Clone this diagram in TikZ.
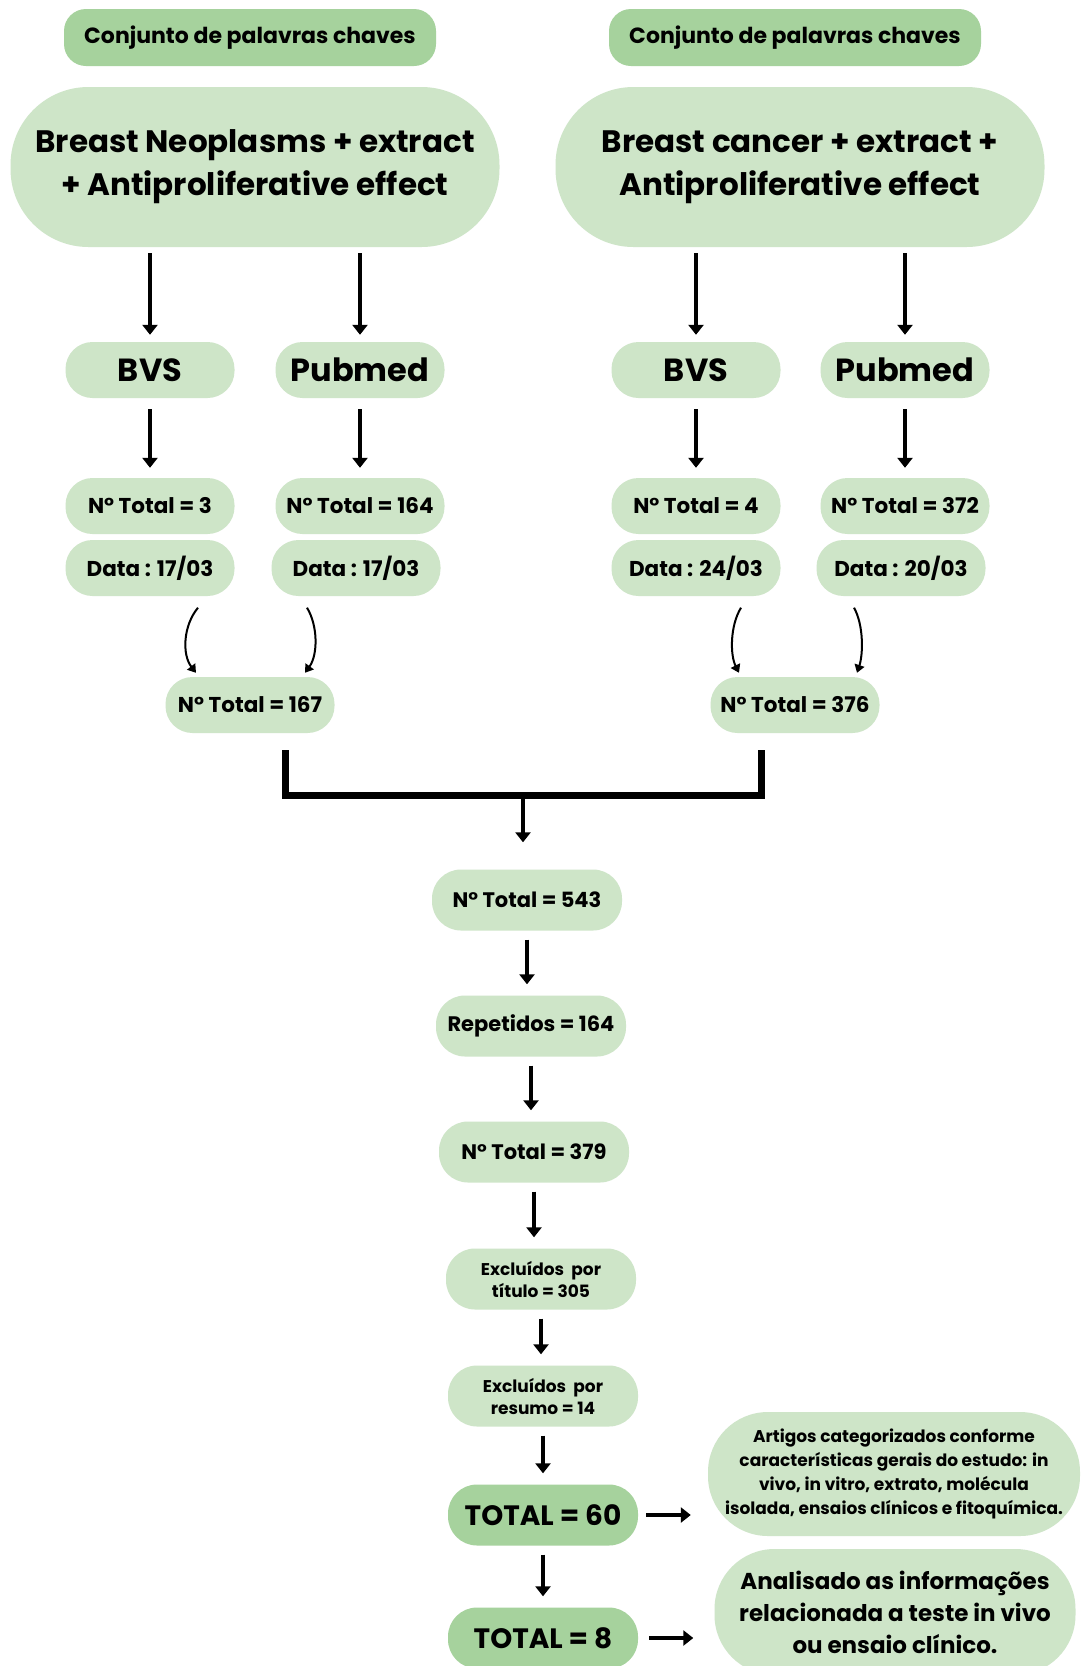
\documentclass[tikz,border=0pt]{standalone}
\usepackage{fontspec}
\setmainfont{Poppins}
\usetikzlibrary{arrows.meta,calc}
\definecolor{lg}{RGB}{206,229,200}
\definecolor{dg}{RGB}{166,210,157}
\begin{document}
\begin{tikzpicture}[x=1pt,y=-1pt,
  hdr/.style={fill=dg, rounded corners=22pt, minimum width=372pt, minimum height=57pt, inner sep=0pt, font=\bfseries\fontsize{22}{26}\selectfont},
  big/.style={fill=lg, rounded corners=78pt, minimum width=489pt, minimum height=160pt, inner sep=0pt, align=center, font=\bfseries\fontsize{31}{43}\selectfont},
  db/.style={fill=lg, rounded corners=27pt, minimum width=169pt, minimum height=56pt, inner sep=0pt, font=\bfseries\fontsize{32}{38}\selectfont},
  sm/.style={fill=lg, rounded corners=27pt, minimum width=169pt, minimum height=56pt, inner sep=0pt, font=\bfseries\fontsize{21.5}{25}\selectfont},
  mid/.style={fill=lg, rounded corners=29pt, minimum width=190pt, minimum height=61pt, inner sep=0pt, align=center, font=\bfseries\fontsize{21}{25}\selectfont},
  excl/.style={mid, font=\bfseries\fontsize{17}{22}\selectfont},
  tot/.style={mid, fill=dg, font=\bfseries\fontsize{28}{32}\selectfont},
  note/.style={fill=lg, rounded corners=60pt, inner sep=0pt, align=center},
  arr/.style={line width=3.5pt, -{Triangle[width=15pt,length=10pt]}},
  carr/.style={line width=2pt, -{Triangle[width=10pt,length=8pt]}},
  midarr/.style={arr, shorten <=9pt, shorten >=11pt}
]
\fill[white] (0,0) rectangle (1080,1666);
\useasboundingbox (0,0) rectangle (1080,1666);
\clip (0,0) rectangle (1080,1666);

% headers
\node[hdr] (hL) at (250,37.5) {Conjunto de palavras chaves};
\node[hdr] (hR) at (795,37.5) {Conjunto de palavras chaves};

% keyword pills
\node[big] (kL) at (255,167) {Breast Neoplasms + extract\\+ Antiproliferative effect};
\node[big] (kR) at (800,167) {Breast cancer + extract +\\Antiproliferative effect};

% databases
\node[db] (bL) at (150,370) {BVS};
\node[db] (pL) at (360,370) {Pubmed};
\node[db] (bR) at (696,370) {BVS};
\node[db] (pR) at (905,370) {Pubmed};

% totals
\node[sm] (nL1) at (150,506) {N° Total = 3};
\node[sm] (nL2) at (360,506) {N° Total = 164};
\node[sm] (nR1) at (696,506) {N° Total = 4};
\node[sm] (nR2) at (905,506) {N° Total = 372};

% dates
\node[sm] (dL1) at (150,568) {Data : 17/03};
\node[sm] (dL2) at (356,568) {Data : 17/03};
\node[sm] (dR1) at (696,568) {Data : 24/03};
\node[sm] (dR2) at (901,568) {Data : 20/03};

% combined
\node[sm] (sL) at (250,705) {N° Total = 167};
\node[sm] (sR) at (795,705) {N° Total = 376};

% middle column
\node[mid] (m1) at (527,900) {N° Total = 543};
\node[mid] (m2) at (531,1026) {Repetidos = 164};
\node[mid] (m3) at (534,1152) {N° Total = 379};
\node[excl] (m4) at (541,1279) {Excluídos\ \ por\\título = 305};
\node[excl] (m5) at (543,1396) {Excluídos\ \ por\\resumo = 14};
\node[tot] (t60) at (543,1515) {TOTAL = 60};
\node[tot] (t8) at (543,1638) {TOTAL = 8};

\node[note, minimum width=372pt, minimum height=124pt, font=\bfseries\fontsize{17}{24}\selectfont] (art) at (894,1474)
  {Artigos categorizados conforme\\características gerais do estudo: in\\vivo, in vitro, extrato, molécula\\isolada, ensaios clínicos e fitoquímica.};
\node[note, minimum width=361pt, minimum height=126pt, font=\bfseries\fontsize{23}{32}\selectfont] (ana) at (895,1612)
  {Analisado as informações\\relacionada a teste in vivo\\ou ensaio clínico.};

% arrows from keyword pills
\foreach \k/\d in {kL/bL,kL/pL,kR/bR,kR/pR}
  \draw[arr, shorten <=6pt, shorten >=7pt] (\d.north |- \k.south) -- (\d.north);

% arrows from databases to totals
\foreach \d/\n in {bL/nL1,pL/nL2,bR/nR1,pR/nR2}
  \draw[arr, shorten <=11pt, shorten >=10pt] (\d.south) -- (\n.north);

% curved arrows
\draw[carr] ($(dL1.south)+(48,11.5)$) .. controls +(-15,18) and +(-14,-18) .. ($(sL.north)+(-54,-4)$);
\draw[carr] ($(dL2.south)+(-49,11.5)$) .. controls +(11,18) and +(13,-18) .. ($(sL.north)+(55,-4)$);
\draw[carr] ($(dR1.south)+(45,11.5)$) .. controls +(-11,18) and +(-9,-18) .. ($(sR.north)+(-56,-4)$);
\draw[carr] ($(dR2.south)+(-47,11.5)$) .. controls +(10,18) and +(6,-18) .. ($(sR.north)+(62,-4)$);

% bracket
\coordinate (bl) at ($(sL.south)+(35,17)$);
\coordinate (br) at ($(sR.south)+(-34,17)$);
\draw[line width=7pt, line cap=butt] (bl) -- ++(0,45) -| (br);
\coordinate (bm) at ($(bl)!0.5!(br)+(0,45)$);
\draw[arr, shorten >=27pt] (bm) -- (bm |- m1.north);

% middle arrows
\draw[midarr] (m1.south) -- (m1.south |- m2.north);
\draw[midarr] (m2.south) -- (m2.south |- m3.north);
\draw[midarr] (m3.south) -- (m3.south |- m4.north);
\draw[midarr] (m4.south) -- (m4.south |- m5.north);
\draw[midarr] (m5.south) -- (m5.south |- t60.north);
\draw[midarr] (t60.south) -- (t60.south |- t8.north);

% side arrows
\draw[arr, shorten <=8pt, shorten >=17pt] (t60.east) -- (t60.east -| art.west);
\draw[arr, shorten <=11pt, shorten >=21pt] (t8.east) -- (t8.east -| ana.west);
\end{tikzpicture}
\end{document}
